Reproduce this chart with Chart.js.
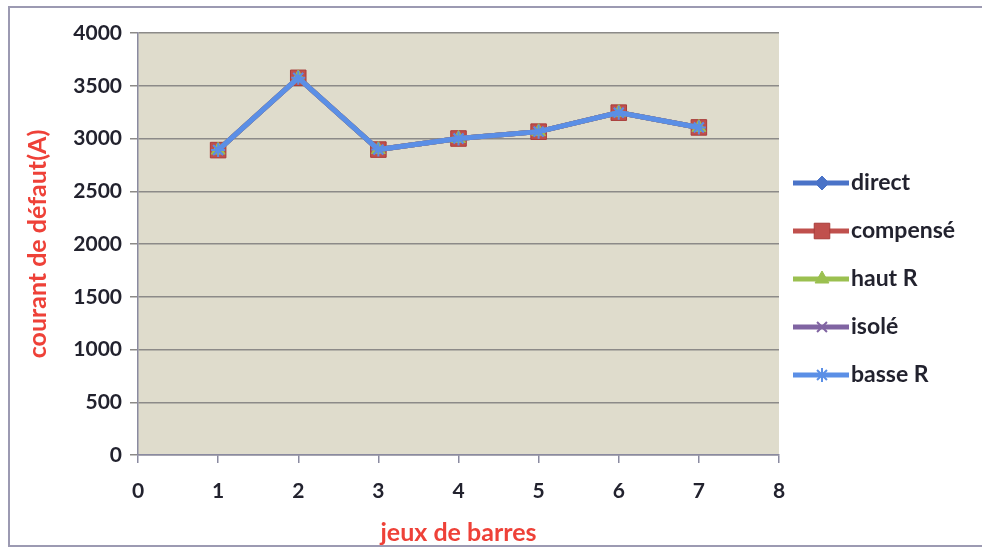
<!DOCTYPE html>
<html>
<head>
<meta charset="utf-8">
<script src="https://cdn.jsdelivr.net/npm/chart.js@4"></script>
<style>
  html, body { margin: 0; padding: 0; background: #fff; }
  #wrap { position: relative; width: 982px; height: 551px; }
  #frame { position: absolute; left: 8px; top: 6px; width: 990px; height: 541px; border: 2px solid #9c9ab2; box-sizing: border-box; }
  canvas { position: absolute; left: 0; top: 0; }
</style>
</head>
<body>
<div id="wrap">
  <div id="frame"></div>
  <canvas id="chart" width="982" height="551"></canvas>
</div>
<script>
// jeux de barres 1..7
const busbars = [1, 2, 3, 4, 5, 6, 7];
const direct   = [2890, 3575, 2895, 3000, 3065, 3245, 3105];
const compense = [2890, 3575, 2895, 3000, 3065, 3245, 3105];
const hautR    = [2890, 3575, 2895, 3000, 3065, 3245, 3105];
const isole    = [2890, 3575, 2895, 3000, 3065, 3245, 3105];
const basseR   = [2890, 3575, 2895, 3000, 3065, 3245, 3105];
const seriesNames = ['direct', 'compensé', 'haut R', 'isolé', 'basse R'];

const FONT = 'Lato, "Open Sans", sans-serif';

function toPoints(values) {
    return busbars.map(function(x, i) { return { x: x, y: values[i] }; });
}

const styles = [
    { color: '#4a73c8', pointStyle: 'rectRot', radius: 7 },
    { color: '#c0504d', pointStyle: 'rect', radius: 11 },
    { color: '#9bc050', pointStyle: 'triangle', radius: 8 },
    { color: '#8064a2', pointStyle: 'crossRot', radius: 7 },
    { color: '#5b8fe6', pointStyle: 'star', radius: 7 }
];
const allValues = [direct, compense, hautR, isole, basseR];

const datasets = allValues.map(function(vals, i) {
    const s = styles[i];
    return {
        label: seriesNames[i],
        data: toPoints(vals),
        borderColor: s.color,
        backgroundColor: s.color,
        borderWidth: 5,
        pointStyle: s.pointStyle,
        pointRadius: s.radius,
        pointBorderColor: i === 1 ? '#a83c3a' : s.color,
        pointBorderWidth: (s.pointStyle === 'crossRot' || s.pointStyle === 'star') ? 2 : 1,
        pointBackgroundColor: s.color,
        order: 4 - i,
        tension: 0
    };
});

// beige plot area
const plotBackground = {
    id: 'plotBackground',
    beforeDraw: function(chart) {
        const a = chart.chartArea;
        const ctx = chart.ctx;
        ctx.save();
        ctx.fillStyle = '#dfdccc';
        ctx.fillRect(a.left, a.top, a.right - a.left, a.bottom - a.top);
        ctx.restore();
    }
};

// legend with line + marker like the spreadsheet one
const sideLegend = {
    id: 'sideLegend',
    afterDraw: function(chart) {
        const ctx = chart.ctx;
        ctx.save();
        chart.data.datasets.forEach(function(ds, i) {
            const y = 183 + i * 48;
            ctx.strokeStyle = ds.borderColor;
            ctx.lineWidth = 5;
            ctx.beginPath();
            ctx.moveTo(793, y);
            ctx.lineTo(849, y);
            ctx.stroke();
            ctx.fillStyle = ds.pointBackgroundColor;
            ctx.strokeStyle = ds.pointBorderColor;
            ctx.lineWidth = ds.pointBorderWidth;
            Chart.helpers.drawPoint(ctx, {
                pointStyle: ds.pointStyle,
                radius: ds.pointRadius,
                rotation: 0,
                borderWidth: ds.pointBorderWidth
            }, 822, y);
            ctx.fillStyle = '#22222e';
            ctx.font = 'bold 23px ' + FONT;
            ctx.textBaseline = 'middle';
            ctx.textAlign = 'left';
            ctx.fillText(ds.label, 851, y);
        });
        ctx.restore();
    }
};

new Chart(document.getElementById('chart').getContext('2d'), {
    type: 'line',
    data: { datasets: datasets },
    plugins: [plotBackground, sideLegend],
    options: {
        responsive: false,
        animation: false,
        layout: { padding: { left: 16, right: 203, top: 33, bottom: 0 } },
        plugins: {
            legend: { display: false },
            tooltip: { enabled: false }
        },
        scales: {
            x: {
                type: 'linear',
                min: 0,
                max: 8,
                ticks: {
                    stepSize: 1,
                    padding: 16,
                    color: '#22222e',
                    font: { family: FONT, size: 21, weight: 'bold' },
                    callback: function(v) { return String(v); }
                },
                grid: { drawOnChartArea: false, tickLength: 8, color: '#8a8aa0', lineWidth: 1.5 },
                border: { color: '#8a8aa0', width: 1.5 },
                title: {
                    display: true,
                    text: 'jeux de barres',
                    color: '#ee4138',
                    font: { family: FONT, size: 25, weight: 'bold' },
                    padding: { top: 0, bottom: 3 }
                },
                afterFit: function(scale) { scale.height = 96; }
            },
            y: {
                min: 0,
                max: 4000,
                ticks: {
                    stepSize: 500,
                    padding: 8,
                    color: '#22222e',
                    font: { family: FONT, size: 21, weight: 'bold' },
                    callback: function(v) { return String(v); }
                },
                grid: { color: '#8c8a88', lineWidth: 1.5, tickLength: 8 },
                border: { color: '#8a8aa0', width: 1.5 },
                title: {
                    display: true,
                    text: 'courant de défaut(A)',
                    color: '#ee4138',
                    font: { family: FONT, size: 25, weight: 'bold' },
                    padding: { top: 7, bottom: 0 }
                },
                afterFit: function(scale) { scale.width = 122; }
            }
        }
    }
});
</script>
</body>
</html>
